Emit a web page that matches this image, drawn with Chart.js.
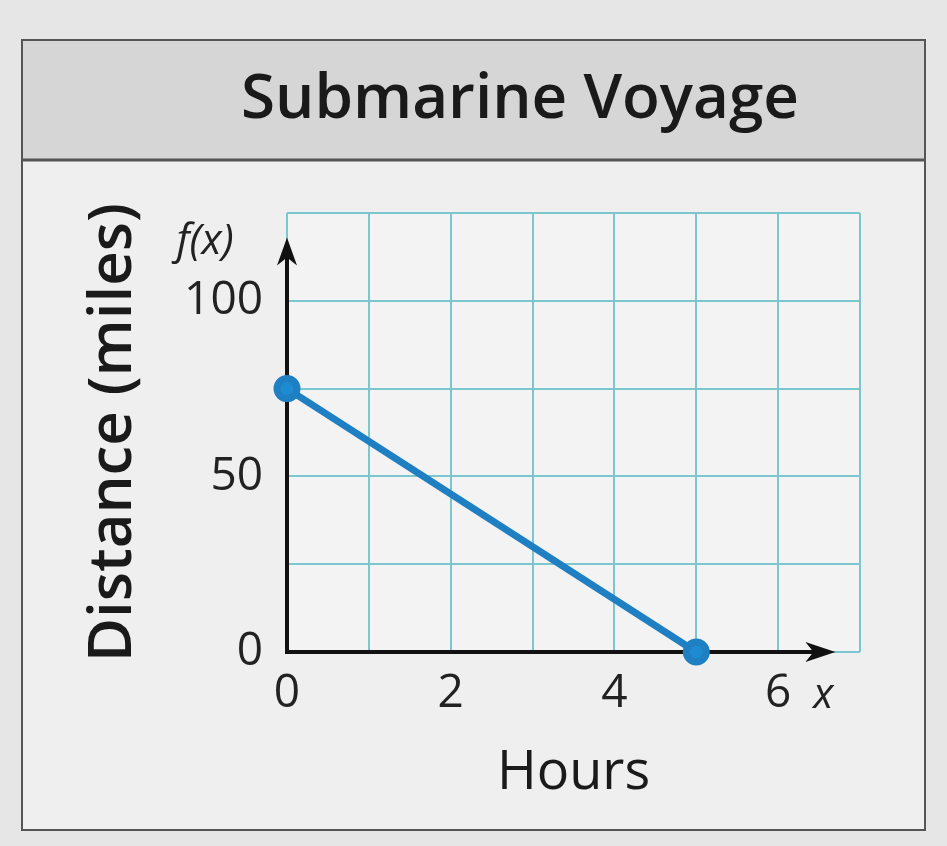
<!DOCTYPE html>
<html>
<head>
<meta charset="utf-8">
<script src="https://cdn.jsdelivr.net/npm/chart.js@4/dist/chart.umd.min.js"></script>
<style>
  html, body { margin: 0; padding: 0; background: #e6e6e6; }
  #wrap { width: 947px; height: 846px; position: relative; }
</style>
</head>
<body>
<div id="wrap"><canvas id="c" width="947" height="846"></canvas></div>
<script>
// ---- data ----
const chartTitle = "Submarine Voyage";
const xAxisTitle = "Hours";
const yAxisTitle = "Distance (miles)";
const hours = [0, 5];
const distance = [75, 0];
const xTickLabels = [0, 2, 4, 6];
const yTickLabels = [0, 50, 100];
const xMax = 7, yMax = 125, xStep = 1, yStep = 25;
const xArrowEnd = 6.7, yArrowEnd = 118;

const FONT = "'Open Sans', 'Noto Sans', sans-serif";
const PAD = { left: 78, right: 87, top: 213, bottom: 40 };

const framePlugin = {
  id: 'frame',
  beforeDraw(chart) {
    const ctx = chart.ctx;
    ctx.save();
    ctx.fillStyle = '#e6e6e6';
    ctx.fillRect(0, 0, chart.width, chart.height);
    ctx.fillStyle = '#efefef';
    ctx.fillRect(22, 40, 903, 790);
    ctx.fillStyle = '#d6d6d6';
    ctx.fillRect(22, 40, 903, 120);
    ctx.strokeStyle = '#555';
    ctx.lineWidth = 3;
    ctx.beginPath(); ctx.moveTo(22, 160); ctx.lineTo(925, 160); ctx.stroke();
    ctx.lineWidth = 2;
    ctx.strokeRect(22, 40, 903, 790);
    const a = chart.chartArea;
    ctx.fillStyle = '#f3f3f3';
    ctx.fillRect(a.left, a.top, a.right - a.left, a.bottom - a.top);
    // chart title
    ctx.font = '600 62px ' + FONT;
    ctx.fillStyle = '#1a1a1a';
    ctx.textAlign = 'center';
    ctx.textBaseline = 'middle';
    ctx.fillText(chartTitle, 520, 100);
    ctx.restore();
  },
  beforeDatasetsDraw(chart) {
    const ctx = chart.ctx;
    const xs = chart.scales.x, ys = chart.scales.y;
    const x0 = xs.getPixelForValue(0), y0 = ys.getPixelForValue(0);
    const xe = xs.getPixelForValue(xArrowEnd), ye = ys.getPixelForValue(yArrowEnd);
    ctx.save();
    ctx.strokeStyle = '#111';
    ctx.fillStyle = '#111';
    ctx.lineWidth = 4;
    ctx.beginPath();
    ctx.moveTo(x0, ye + 10); ctx.lineTo(x0, y0); ctx.lineTo(xe - 10, y0);
    ctx.stroke();
    ctx.beginPath();
    ctx.moveTo(x0, ye); ctx.lineTo(x0 - 10, ye + 28); ctx.lineTo(x0, ye + 20); ctx.lineTo(x0 + 10, ye + 28); ctx.closePath();
    ctx.fill();
    ctx.beginPath();
    ctx.moveTo(xe, y0); ctx.lineTo(xe - 30, y0 - 10); ctx.lineTo(xe - 22, y0); ctx.lineTo(xe - 30, y0 + 10); ctx.closePath();
    ctx.fill();
    ctx.font = 'italic 42px ' + FONT;
    ctx.fillStyle = '#222';
    ctx.textAlign = 'center';
    ctx.textBaseline = 'middle';
    ctx.fillText('f(x)', x0 - 82, ye + 4);
    ctx.fillText('x', xe - 12, y0 + 44);
    ctx.restore();
  }
};

new Chart(document.getElementById('c'), {
  type: 'scatter',
  data: {
    datasets: [{
      data: hours.map((h, i) => ({ x: h, y: distance[i] })),
      showLine: true,
      borderColor: '#1e7fc2',
      backgroundColor: '#1e8ad0',
      borderWidth: 7,
      pointRadius: 10,
      pointHoverRadius: 10,
      clip: false
    }]
  },
  options: {
    responsive: false,
    animation: false,
    layout: { padding: PAD },
    plugins: {
      legend: { display: false },
      tooltip: { enabled: false },
      title: { display: false }
    },
    scales: {
      x: {
        type: 'linear', min: 0, max: xMax,
        afterFit(s) { s.height = 846 - 652 - PAD.bottom; },
        border: { display: false },
        grid: { color: '#7cc7cf', lineWidth: 2, drawTicks: false },
        ticks: {
          stepSize: xStep, padding: 14, color: '#222',
          font: { family: FONT, size: 46 },
          callback: v => xTickLabels.includes(v) ? String(v) : ''
        },
        title: {
          display: true, text: xAxisTitle, color: '#1a1a1a',
          font: { family: FONT, size: 54 }, padding: 0
        }
      },
      y: {
        type: 'linear', min: 0, max: yMax,
        afterFit(s) { s.width = 287 - PAD.left; },
        border: { display: false },
        grid: { color: '#7cc7cf', lineWidth: 2, drawTicks: false },
        ticks: {
          stepSize: yStep, padding: 24, color: '#222',
          font: { family: FONT, size: 46 },
          callback: v => yTickLabels.includes(v) ? String(v) : ''
        },
        title: {
          display: true, text: yAxisTitle, color: '#1a1a1a',
          font: { family: FONT, size: 60, weight: '600' }, padding: 0
        }
      }
    }
  },
  plugins: [framePlugin]
});
</script>
</body>
</html>
